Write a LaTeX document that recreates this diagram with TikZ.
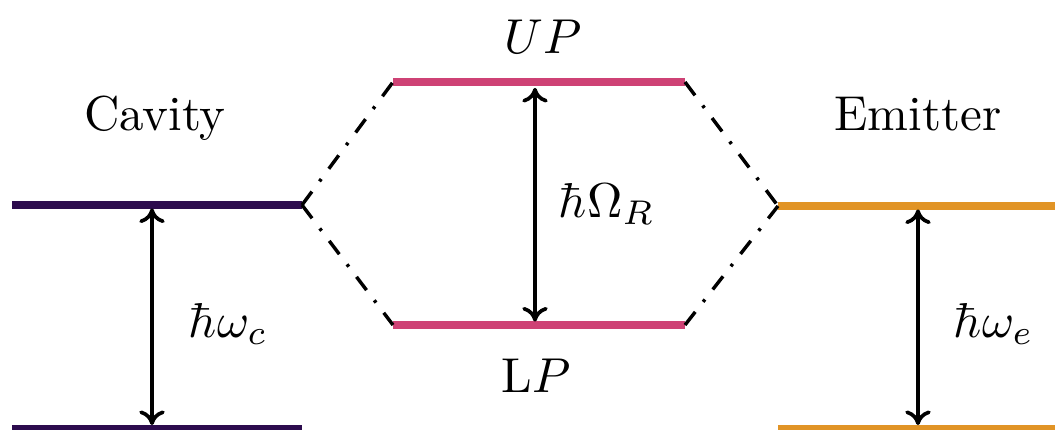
\documentclass[tikz,border=0pt]{standalone}
\usetikzlibrary{arrows.meta}
\definecolor{cavcol}{HTML}{2D0C4E}
\definecolor{polcol}{HTML}{CE4275}
\definecolor{emicol}{HTML}{E19426}
\begin{document}
\begin{tikzpicture}[x=0.007174cm,y=-0.007174cm,
  level/.style={line width=1.45pt},
  gaparrow/.style={line width=0.75pt,{Computer Modern Rightarrow[length=3pt,width=5.2pt]}-{Computer Modern Rightarrow[length=3pt,width=5.2pt]},shorten <=0.7pt,shorten >=0.7pt},
  mix/.style={line width=0.7pt,dash pattern=on 3.4pt off 2.6pt on 0.6pt off 2.6pt},
  lab/.style={inner sep=0pt,anchor=base}]
\useasboundingbox (0,0) rectangle (1055,430);
% level endpoints
\coordinate (c1L) at (12,205);  \coordinate (c1R) at (302,205);
\coordinate (c0L) at (12,428.5);  \coordinate (c0R) at (302,428.5);
\coordinate (e1L) at (778,206); \coordinate (e1R) at (1060,206);
\coordinate (e0L) at (778,428.5); \coordinate (e0R) at (1060,428.5);
\coordinate (upL) at (393,82);  \coordinate (upR) at (685,82);
\coordinate (lpL) at (393,325); \coordinate (lpR) at (685,325);
% arrow endpoints
\coordinate (ca1) at (152,205); \coordinate (ca0) at (152,428.5);
\coordinate (ea1) at (918,206); \coordinate (ea0) at (918,428.5);
\coordinate (pa1) at (535,82);  \coordinate (pa0) at (535,325);
% levels
\draw[level,cavcol] (c1L) -- (c1R);
\draw[level,cavcol] (c0L) -- (c0R);
\draw[level,emicol] (e1L) -- (e1R);
\draw[level,emicol] (e0L) -- (e0R);
\draw[level,polcol] (upL) -- (upR);
\draw[level,polcol] (lpL) -- (lpR);
% mixing lines
\draw[mix] (c1R) -- (upL);
\draw[mix] (c1R) -- (lpL);
\draw[mix] (upR) -- (e1L);
\draw[mix] (lpR) -- (e1L);
% arrows
\draw[gaparrow] (ca1) -- (ca0);
\draw[gaparrow] (ea1) -- (ea0);
\draw[gaparrow,shorten <=1.2pt] (pa1) -- (pa0);
% labels
\node[lab] (tcav) at (155,130) {Cavity};
\node[lab] (temi) at (918,130) {Emitter};
\node[lab] (tup) at (543,53) {$UP$};
\node[lab] (tlp) at (536,392) {L$P$};
\node[lab,anchor=base west] (tom) at (558,217) {$\hbar\Omega_R$};
\node[lab,anchor=base west] (twc) at (188,337) {$\hbar\omega_c$};
\node[lab,anchor=base west] (twe) at (953,337) {$\hbar\omega_e$};
\end{tikzpicture}
\end{document}
